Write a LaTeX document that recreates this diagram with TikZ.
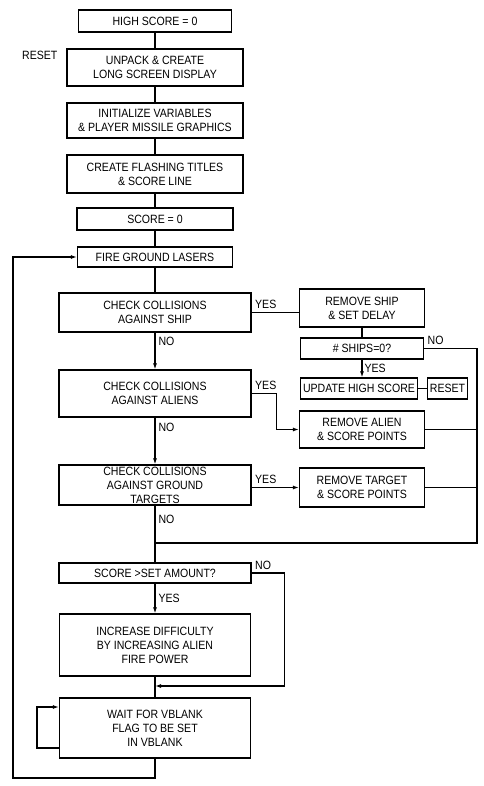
\documentclass[tikz,border=0pt]{standalone}
\usepackage{fontspec}
\setmainfont{Liberation Sans}[FakeStretch=0.88]
\usetikzlibrary{arrows.meta,positioning}
\tikzset{%
  >={Latex[width=4pt,length=6pt]},
  % Specifications for style of nodes:
        base/.style = {rectangle, draw=black, line width=1.2pt,
                       inner sep=0pt, text centered, align=center},
         lbl/.style = {inner sep=0pt},
    shortbox/.style = {base, minimum width=155pt, minimum height=22pt},
     initbox/.style = {base, minimum width=176pt, minimum height=37pt},
    checkbox/.style = {base, minimum width=192pt},
     sidebox/.style = {base, minimum width=125pt, minimum height=38pt}
}
\begin{document}
\begin{tikzpicture}[x=1pt, y=-1pt, line width=1.2pt, font=\fontsize{12pt}{14pt}\selectfont]
  \useasboundingbox (0,0) rectangle (483,786);

  % main column
  \node (high)   [shortbox, minimum width=153pt] at (155,21) {HIGH SCORE = 0};
  \node (unpack) [initbox, node distance=46.5pt, below of=high] {UNPACK \& CREATE\\LONG SCREEN DISPLAY};
  \node (init)   [initbox, minimum height=35pt, node distance=53pt, below of=unpack] {INITIALIZE VARIABLES\\\& PLAYER MISSILE GRAPHICS};
  \node (flash)  [initbox, minimum height=38pt, node distance=53.5pt, below of=init] {CREATE FLASHING TITLES\\\& SCORE LINE};
  \node (score)  [shortbox, minimum width=156pt, node distance=45pt, below of=flash] {SCORE = 0};
  \node (fire)   [shortbox, minimum height=20pt, node distance=38pt, below of=score] {FIRE GROUND LASERS};
  \node (ship)   [checkbox, minimum height=39pt, node distance=55.5pt, below of=fire] {CHECK COLLISIONS\\AGAINST SHIP};
  \node (aliens) [checkbox, minimum height=47pt, node distance=81pt, below of=ship] {CHECK COLLISIONS\\AGAINST ALIENS};
  \node (ground) [checkbox, minimum height=40pt, node distance=91.5pt, below of=aliens] {};
  \node (groundtext) [lbl, align=center] at ([yshift=-0.5pt]ground.center) {CHECK COLLISIONS\\AGAINST GROUND\\TARGETS};
  \node (amount) [checkbox, minimum height=20pt, node distance=88pt, below of=ground] {SCORE >SET AMOUNT?};
  \node (harder) [checkbox, minimum width=191pt, minimum height=62pt, node distance=72pt, below of=amount] {INCREASE DIFFICULTY\\BY INCREASING ALIEN\\FIRE POWER};
  \node (vblank) [checkbox, minimum width=191pt, minimum height=60pt, node distance=83pt, below of=harder] {WAIT FOR VBLANK\\FLAG TO BE SET\\IN VBLANK};
  \node (resetlabel) [lbl, anchor=east] at (58,55) {RESET};

  % right column
  \node (rship)   [sidebox, node distance=207pt, right of=ship, yshift=4.5pt] {REMOVE SHIP\\\& SET DELAY};
  \node (ships)   [sidebox, minimum width=123pt, minimum height=21pt, node distance=40.5pt, below of=rship] {\# SHIPS=0?};
  \node (update)  [base, minimum width=117pt, minimum height=21pt, node distance=40pt, below of=ships, xshift=-3pt] {UPDATE HIGH SCORE};
  \node (reset)   [base, minimum width=40pt, minimum height=21pt, node distance=88.5pt, right of=update] {RESET};
  \node (ralien)  [sidebox, minimum height=37pt, node distance=207pt, right of=aliens, yshift=-36pt] {REMOVE ALIEN\\\& SCORE POINTS};
  \node (rtarget) [sidebox, minimum height=39pt, node distance=207pt, right of=ground, yshift=-2.5pt] {REMOVE TARGET\\\& SCORE POINTS};

  \coordinate (join) at (155,543);
  \coordinate (busend) at (477,543);
  \coordinate (merge) at (155,686);
  \coordinate (corner) at (13,778);

  \draw (high) -- (unpack);
  \draw (unpack) -- (init);
  \draw (init) -- (flash);
  \draw (flash) -- (score);
  \draw (score) -- (fire);
  \draw (fire) -- (ship);
  \draw[->] (ship) -- node[pos=0.24, right, inner sep=3pt]{NO} (aliens);
  \draw[->] (aliens) -- node[pos=0.21, right, inner sep=3pt]{NO} (ground);
  \draw (ground) -- node[pos=0.25, right, inner sep=3pt]{NO} (amount);

  \draw (ship.east) -- node[pos=0, above right, inner sep=3pt]{YES} (ship.east -| rship.west);
  \draw (rship) -- (ships);
  \draw[->] (ships) -- node[right, inner sep=2pt]{YES} (ships.south |- update.north);
  \draw (update) -- (reset);
  \draw (ships.east) -- node[pos=0, above right, inner sep=3pt]{NO} (busend |- ships.east) -- (busend) -- (join);
  \draw[->] (aliens.east) -- node[pos=0, above right, inner sep=3pt]{YES} ++(25,0) |- (ralien);
  \draw (ralien) -- (ralien -| busend);
  \draw[->] (ground.east |- rtarget) -- node[pos=0, above right, inner sep=3pt]{YES} (rtarget);
  \draw (rtarget) -- (rtarget -| busend);

  \draw[->] (amount) -- node[right, inner sep=3pt]{YES} (harder);
  \draw[->] (amount.east) -- node[pos=0, above right, inner sep=3pt]{NO} ++(33,0) |- (merge);
  \draw (harder) -- (vblank);
  \draw[->] ([yshift=-20pt]vblank.west) -- ++(-22,0) |- ([yshift=21pt]vblank.west);
  \draw[->] (vblank) |- (corner) |- (fire);
\end{tikzpicture}
\end{document}
